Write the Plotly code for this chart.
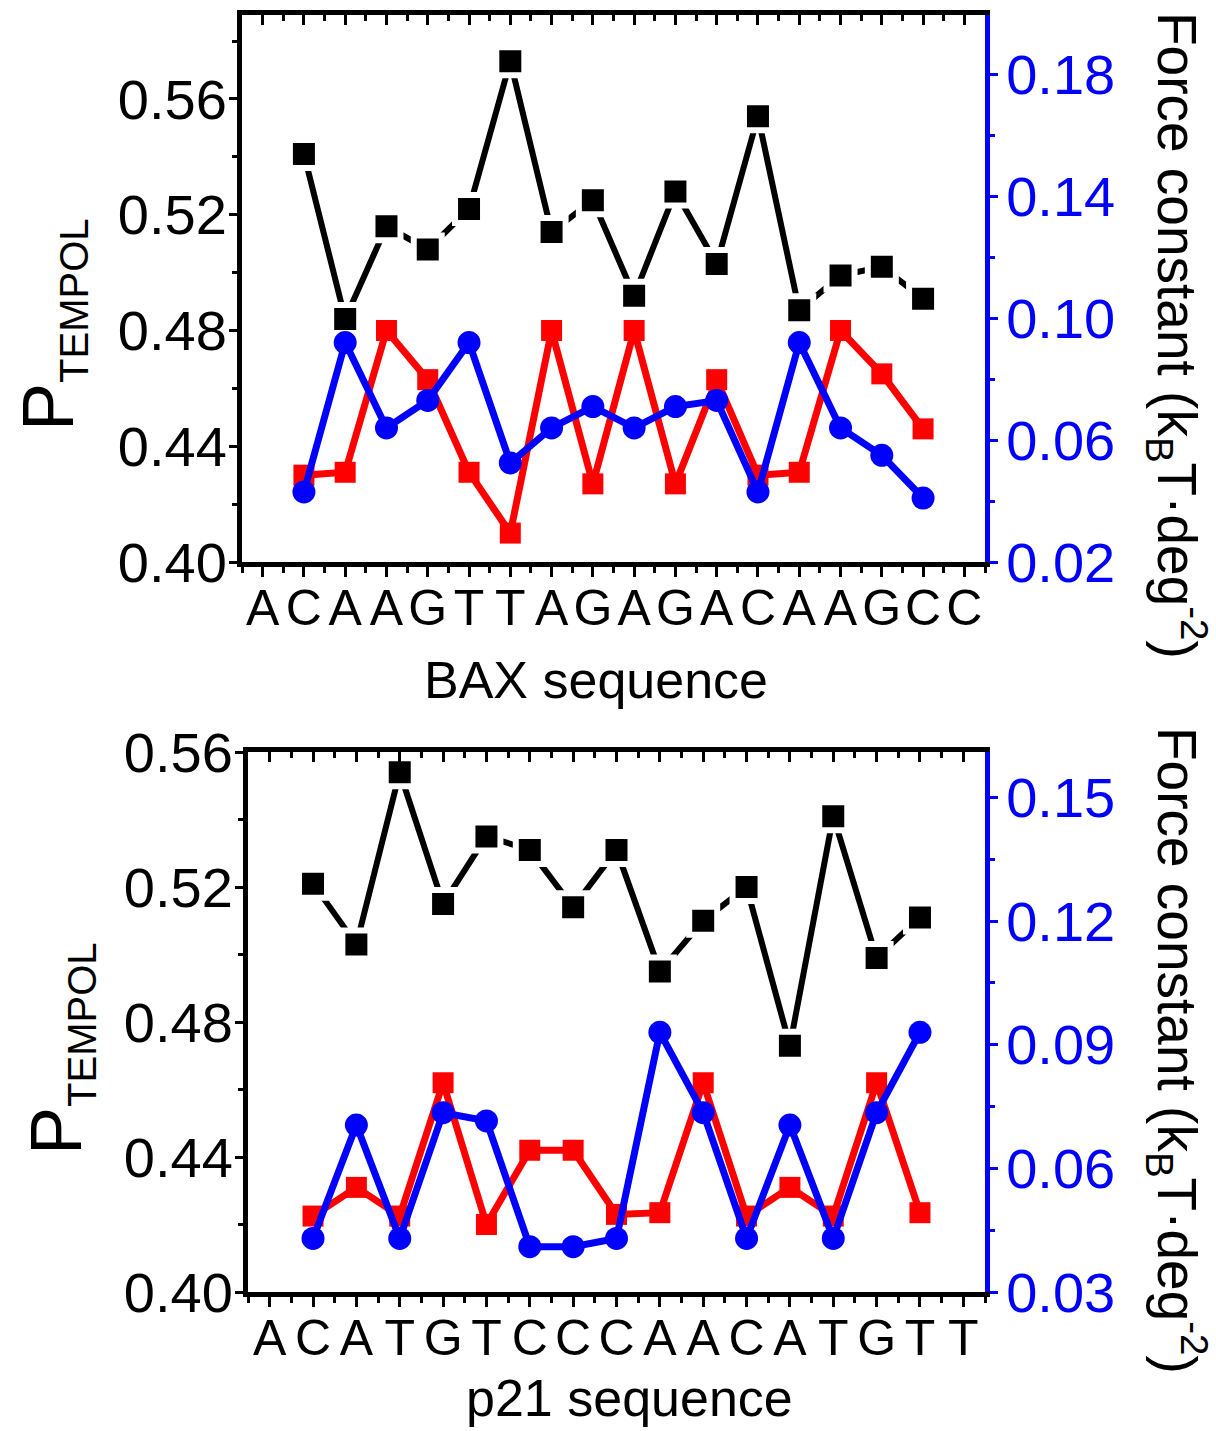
import plotly.graph_objects as go

W, H = 1216, 1431

# ---- BAX panel data -------------------------------------------------------
bax_seq = list("ACAAGTTAGAGACAAGCC")
bax_p_black = [0.541, 0.484, 0.516, 0.508, 0.522, 0.573, 0.514, 0.525,
               0.492, 0.528, 0.503, 0.554, 0.487, 0.499, 0.502, 0.491]
bax_p_red = [0.430, 0.431, 0.480, 0.463, 0.431, 0.410, 0.480, 0.427,
             0.480, 0.427, 0.463, 0.430, 0.431, 0.480, 0.465, 0.446]
bax_k = [0.043, 0.092, 0.064, 0.073, 0.092, 0.0525, 0.064, 0.071,
         0.064, 0.071, 0.073, 0.043, 0.092, 0.064, 0.055, 0.041]

# ---- p21 panel data -------------------------------------------------------
p21_seq = list("ACATGTCCCAACATGTT")
p21_p_black = [0.521, 0.503, 0.554, 0.515, 0.535, 0.531, 0.514, 0.531,
               0.495, 0.510, 0.520, 0.473, 0.541, 0.499, 0.511]
p21_p_red = [0.4225, 0.431, 0.4225, 0.462, 0.420, 0.442, 0.442, 0.423,
             0.4235, 0.462, 0.4225, 0.431, 0.4225, 0.462, 0.4235]
p21_k = [0.043, 0.0705, 0.043, 0.0735, 0.0715, 0.041, 0.041, 0.043,
         0.093, 0.0735, 0.043, 0.0705, 0.043, 0.0735, 0.093]

FONT = "Liberation Sans, Arial, sans-serif"
BLACK, RED, BLUE = "#000000", "#FF0000", "#0000FF"


def fx(p):
    return p / W


def fy(p):
    return 1 - p / H


fig = go.Figure()

panels = [
    dict(seq=bax_seq, black=bax_p_black, red=bax_p_red, k=bax_k,
         x="x", xt="x3", yl="y", yr="y2",
         left=242, right=985, top=15, bottom=562,
         p_range=[0.40, 0.589], k_range=[0.02, 0.1995],
         k_tick0=0.02, k_dtick=0.04, k_minor=0.02,
         title="BAX sequence", title_pos=(596, 680, "middle"),
         ltitle_xy=(52, 325), rtitle_xy=(1177, 335)),
    dict(seq=p21_seq, black=p21_p_black, red=p21_p_red, k=p21_k,
         x="x2", xt="x4", yl="y3", yr="y4",
         left=248, right=985, top=752, bottom=1292,
         p_range=[0.40, 0.56], k_range=[0.03, 0.161],
         k_tick0=0.03, k_dtick=0.03, k_minor=0.015,
         title="p21 sequence", title_pos=(629, 1429, "bottom"),
         ltitle_xy=(60, 1049), rtitle_xy=(1177, 1050)),
]

annotations = []
layout_axes = {}

for pn in panels:
    n = len(pn["black"])
    xs = list(range(1, n + 1))

    # P_TEMPOL, black (white ring around each square leaves a gap in the line)
    fig.add_trace(go.Scatter(
        x=xs, y=pn["black"], xaxis=pn["x"], yaxis=pn["yl"], mode="lines+markers",
        line=dict(color=BLACK, width=6),
        marker=dict(symbol="square", size=28, color=BLACK,
                    line=dict(color="white", width=6)),
        showlegend=False, hoverinfo="skip"))
    # P_TEMPOL, red
    fig.add_trace(go.Scatter(
        x=xs, y=pn["red"], xaxis=pn["x"], yaxis=pn["yl"], mode="lines+markers",
        line=dict(color=RED, width=7),
        marker=dict(symbol="square", size=21, color=RED),
        showlegend=False, hoverinfo="skip"))
    # force constant, blue (right axis)
    fig.add_trace(go.Scatter(
        x=xs, y=pn["k"], xaxis=pn["x"], yaxis=pn["yr"], mode="lines+markers",
        line=dict(color=BLUE, width=7),
        marker=dict(symbol="circle", size=23, color=BLUE),
        showlegend=False, hoverinfo="skip"))
    # placeholder so the top frame axis gets its own subplot
    fig.add_trace(go.Scatter(
        x=[None], y=[None], xaxis=pn["xt"], yaxis=pn["yl"], mode="markers",
        showlegend=False, hoverinfo="skip"))

    nl = len(pn["seq"])
    xr = [-0.5, nl - 0.5]
    xdom = [fx(pn["left"]), fx(pn["right"])]
    ydom = [fy(pn["bottom"]), fy(pn["top"])]
    xkey = "xaxis" + pn["x"][1:]
    xtkey = "xaxis" + pn["xt"][1:]
    ylkey = "yaxis" + pn["yl"][1:]
    yrkey = "yaxis" + pn["yr"][1:]

    layout_axes[xkey] = dict(
        domain=xdom, anchor=pn["yl"], range=xr, automargin=False,
        tickmode="array", tickvals=list(range(nl)), ticktext=pn["seq"],
        ticks="outside", ticklen=10, tickwidth=3, tickcolor=BLACK,
        ticklabelstandoff=-12,
        minor=dict(ticks="outside", ticklen=6, tickwidth=3, tickcolor=BLACK,
                   tick0=0.5, dtick=1),
        showline=True, linewidth=5, linecolor=BLACK,
        showgrid=False, zeroline=False,
        tickfont=dict(family=FONT, size=50, color=BLACK))
    layout_axes[xtkey] = dict(
        overlaying=pn["x"], anchor=pn["yl"], side="top", range=xr,
        automargin=False,
        tickmode="array", tickvals=list(range(nl)), showticklabels=False,
        ticks="inside", ticklen=10, tickwidth=3, tickcolor=BLACK,
        minor=dict(ticks="inside", ticklen=6, tickwidth=3, tickcolor=BLACK,
                   tick0=0.5, dtick=1),
        showline=True, linewidth=5, linecolor=BLACK,
        showgrid=False, zeroline=False)
    layout_axes[ylkey] = dict(
        domain=ydom, anchor=pn["x"], range=pn["p_range"], automargin=False,
        tickmode="linear", tick0=0.40, dtick=0.04, tickformat=".2f",
        ticks="outside", ticklen=8, tickwidth=3, tickcolor=BLACK,
        ticklabelstandoff=-9,
        minor=dict(ticks="outside", ticklen=5, tickwidth=3, tickcolor=BLACK,
                   tick0=0.40, dtick=0.02),
        showline=True, linewidth=5, linecolor=BLACK,
        showgrid=False, zeroline=False,
        tickfont=dict(family=FONT, size=56, color=BLACK))
    layout_axes[yrkey] = dict(
        overlaying=pn["yl"], anchor=pn["x"], side="right", range=pn["k_range"],
        automargin=False,
        tickmode="linear", tick0=pn["k_tick0"], dtick=pn["k_dtick"],
        tickformat=".2f",
        ticks="outside", ticklen=8, tickwidth=3, tickcolor=BLUE,
        ticklabelstandoff=-3,
        minor=dict(ticks="outside", ticklen=5, tickwidth=3, tickcolor=BLUE,
                   tick0=pn["k_tick0"], dtick=pn["k_minor"]),
        showline=True, linewidth=5, linecolor=BLUE,
        showgrid=False, zeroline=False,
        tickfont=dict(family=FONT, size=56, color=BLUE))

    # axis titles
    tx, ty, tanchor = pn["title_pos"]
    annotations.append(dict(
        text=pn["title"], xref="paper", yref="paper",
        x=fx(tx), y=fy(ty),
        xanchor="center", yanchor=tanchor, showarrow=False,
        font=dict(family=FONT, size=52, color=BLACK)))
    annotations.append(dict(
        text="P<sub><span style='font-size:40px'>TEMPOL</span></sub>",
        xref="paper", yref="paper",
        x=fx(pn["ltitle_xy"][0]), y=fy(pn["ltitle_xy"][1]),
        xanchor="center", yanchor="middle", showarrow=False, textangle=-90,
        font=dict(family=FONT, size=72, color=BLACK)))
    annotations.append(dict(
        text="Force constant (k<sub>B</sub>T·deg<sup>-2</sup>)",
        xref="paper", yref="paper",
        x=fx(pn["rtitle_xy"][0]), y=fy(pn["rtitle_xy"][1]),
        xanchor="center", yanchor="middle", showarrow=False, textangle=90,
        font=dict(family=FONT, size=55, color=BLACK)))

fig.update_layout(
    width=W, height=H,
    margin=dict(l=0, r=0, t=0, b=0, pad=0, autoexpand=False),
    paper_bgcolor="white", plot_bgcolor="white",
    font=dict(family=FONT, color=BLACK),
    annotations=annotations,
    **layout_axes)

fig.write_html("out.html")
